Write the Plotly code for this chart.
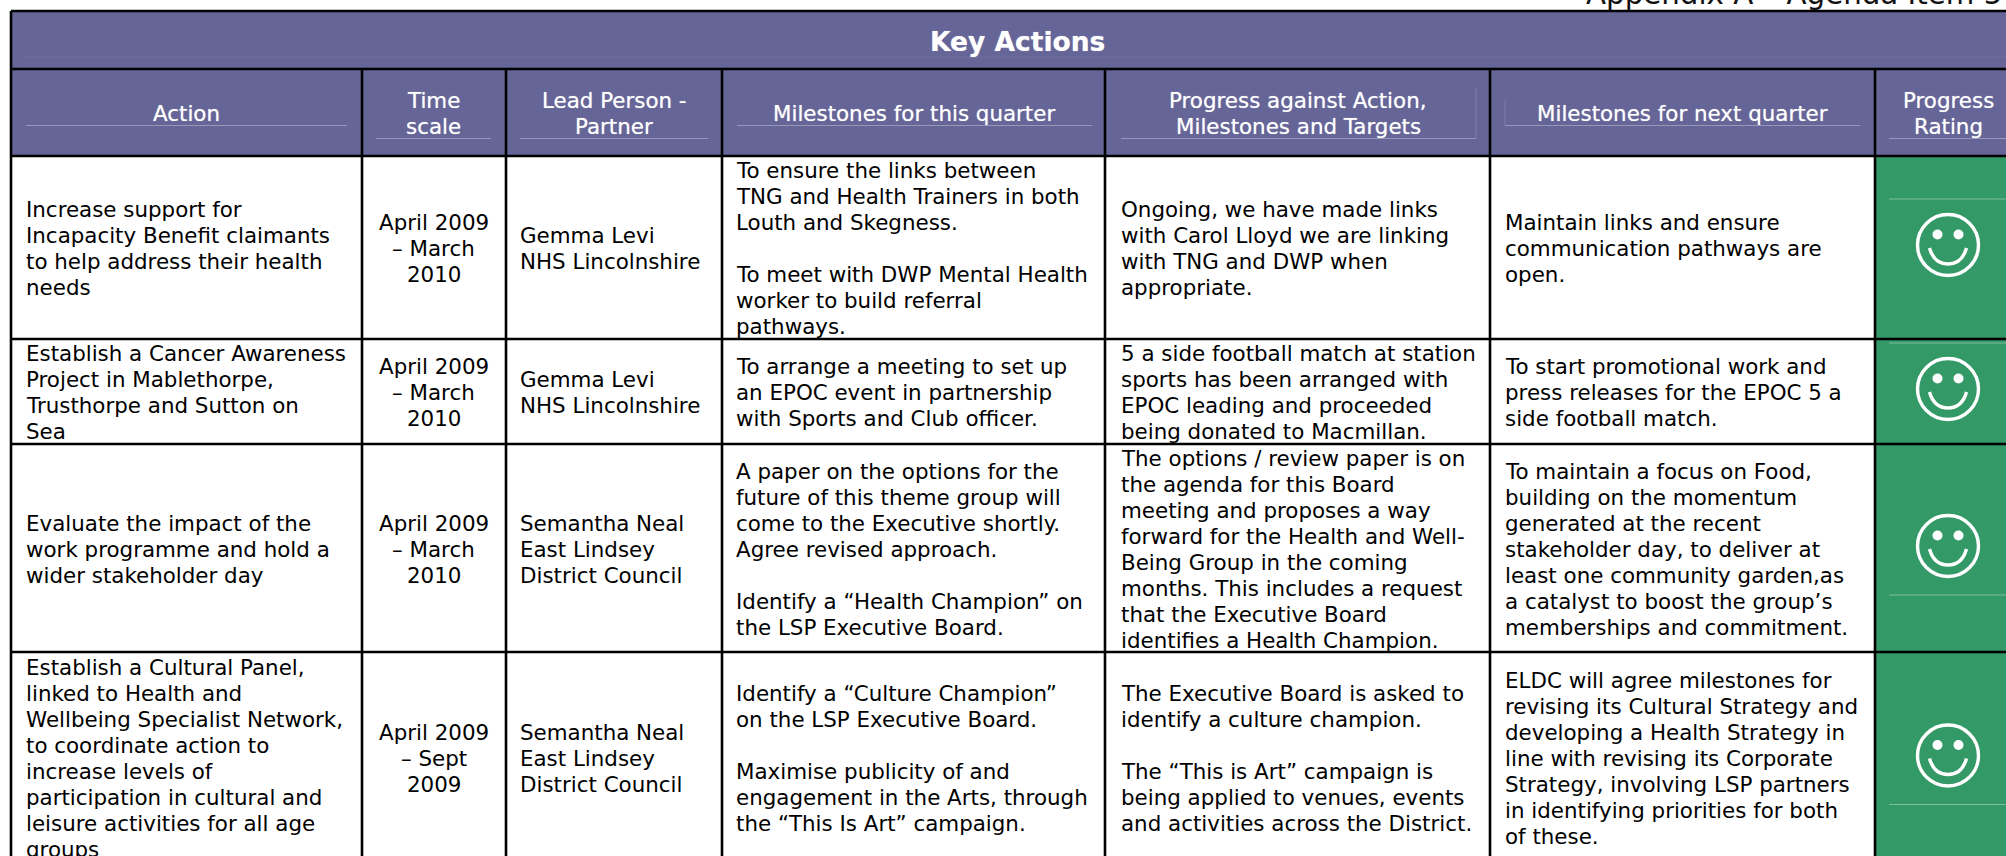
import plotly.graph_objects as go

TITLE = "Key Actions"
PAGE_NOTE = "Appendix A – Agenda Item 5"
HEADERS = ["Action", "Time<br>scale", "Lead Person -<br>Partner", "Milestones for this quarter",
           "Progress against Action,<br>Milestones and Targets", "Milestones for next quarter",
           "Progress<br>Rating"]
ACTIONS = [
    "Increase support for<br>Incapacity Benefit claimants<br>to help address their health<br>needs",
    "Establish a Cancer Awareness<br>Project in Mablethorpe,<br>Trusthorpe and Sutton on<br>Sea",
    "Evaluate the impact of the<br>work programme and hold a<br>wider stakeholder day",
    "Establish a Cultural Panel,<br>linked to Health and<br>Wellbeing Specialist Network,<br>to coordinate action to<br>increase levels of<br>participation in cultural and<br>leisure activities for all age<br>groups",
]
TIMESCALES = ["April 2009<br>– March<br>2010", "April 2009<br>– March<br>2010",
              "April 2009<br>– March<br>2010", "April 2009<br>– Sept<br>2009"]
LEADS = ["Gemma Levi<br>NHS Lincolnshire", "Gemma Levi<br>NHS Lincolnshire",
         "Semantha Neal<br>East Lindsey<br>District Council",
         "Semantha Neal<br>East Lindsey<br>District Council"]
THIS_QUARTER = [
    "To ensure the links between<br>TNG and Health Trainers in both<br>Louth and Skegness.<br><br>To meet with DWP Mental Health<br>worker to build referral<br>pathways.",
    "To arrange a meeting to set up<br>an EPOC event in partnership<br>with Sports and Club officer.",
    "A paper on the options for the<br>future of this theme group will<br>come to the Executive shortly.<br>Agree revised approach.<br><br>Identify a “Health Champion” on<br>the LSP Executive Board.",
    "Identify a “Culture Champion”<br>on the LSP Executive Board.<br><br>Maximise publicity of and<br>engagement in the Arts, through<br>the “This Is Art” campaign.",
]
PROGRESS = [
    "Ongoing, we have made links<br>with Carol Lloyd we are linking<br>with TNG and DWP when<br>appropriate.",
    "5 a side football match at station<br>sports has been arranged with<br>EPOC leading and proceeded<br>being donated to Macmillan.",
    "The options / review paper is on<br>the agenda for this Board<br>meeting and proposes a way<br>forward for the Health and Well-<br>Being Group in the coming<br>months. This includes a request<br>that the Executive Board<br>identifies a Health Champion.",
    "The Executive Board is asked to<br>identify a culture champion.<br><br>The “This is Art” campaign is<br>being applied to venues, events<br>and activities across the District.",
]
NEXT_QUARTER = [
    "Maintain links and ensure<br>communication pathways are<br>open.",
    "To start promotional work and<br>press releases for the EPOC 5 a<br>side football match.",
    "To maintain a focus on Food,<br>building on the momentum<br>generated at the recent<br>stakeholder day, to deliver at<br>least one community garden,as<br>a catalyst to boost the group’s<br>memberships and commitment.",
    "ELDC will agree milestones for<br>revising its Cultural Strategy and<br>developing a Health Strategy in<br>line with revising its Corporate<br>Strategy, involving LSP partners<br>in identifying priorities for both<br>of these.",
]

# layout geometry (page pixels)
COL_X = [11, 362, 506, 722, 1105, 1490, 1875, 2006]
ROW_Y = [11, 69, 156, 339, 444, 652, 856]
TEXT_X = [26, 433.5, 520, 736, 1121, 1505]
ROW_MID = [248, 392, 549, 758]
ACTION_MID = [248, 392, 549, 758]
HEAD_MID_X = [186.5, 433.5, 614, 914, 1298, 1682, 1948]
HEAD_MID_Y = 113.5
SMILE_Y = [245, 389, 546, 755.5]
SMILE_X = 1948
HEAD_RULES = [(26, 347, 125.5), (376, 491, 138.5), (520, 708, 138.5), (737, 1092, 125.5),
              (1121, 1476, 138.5), (1505, 1860, 125.5), (1889, 2006, 138.5), (26, 2006, 57)]
HEAD_TICKS = [(1476, 87, 138.5), (1505, 100, 125.5)]
GREEN_RULES = [199, 343, 595, 804.5]

PURPLE = "#656597"
GREEN = "#339966"
FONT = "DejaVu Sans"
FS = 21.4
LINE_H = 26

shapes, ann = [], []
def rect(x0, x1, y0, y1, fill):
    shapes.append(dict(type="rect", xref="x", yref="y", x0=x0, x1=x1, y0=y0, y1=y1,
                       fillcolor=fill, line_width=0, layer="below"))
def line(x0, y0, x1, y1, color, w):
    shapes.append(dict(type="line", xref="x", yref="y", x0=x0, x1=x1, y0=y0, y1=y1,
                       line=dict(color=color, width=w)))
def label(x, y, text, anchor="left", color="#000000", size=FS, bold=False, yshift=0, shadow="none"):
    rows = text.split("<br>")
    for i, row in enumerate(rows):
        if not row:
            continue
        ann.append(dict(x=x, y=y + (i - (len(rows) - 1) / 2) * LINE_H, xref="x", yref="y",
                        text=f"<b>{row}</b>" if bold else row, showarrow=False, yshift=yshift,
                        xanchor=anchor, yanchor="middle", align=anchor, borderpad=0, borderwidth=0,
                        font=dict(family=FONT, size=size, color=color, shadow=shadow)))

rect(COL_X[0], COL_X[-1], ROW_Y[0], ROW_Y[2], PURPLE)
rect(COL_X[6], COL_X[7], ROW_Y[2], ROW_Y[-1], GREEN)

for x0, x1, y in HEAD_RULES:
    line(x0, y, x1, y, "#9797bb" if y != 57 else "#72729f", 1)
for x, y0, y1 in HEAD_TICKS:
    line(x, y0, x, y1, "#7e7eaa", 1)
for y in GREEN_RULES:
    line(1889, y, 2006, y, "#7fbd9e", 1)

for y in ROW_Y[:-1]:
    line(COL_X[0], y, COL_X[-1], y, "#000000", 2.6)
line(COL_X[0], ROW_Y[0], COL_X[0], ROW_Y[-1], "#000000", 2.6)
for x in COL_X[1:-1]:
    line(x, ROW_Y[1], x, ROW_Y[-1], "#000000", 2.6)

for sy in SMILE_Y:
    shapes.append(dict(type="circle", xref="x", yref="y", x0=SMILE_X-30.5, x1=SMILE_X+30.5,
                       y0=sy-30.5, y1=sy+30.5, line=dict(color="white", width=3.4)))
    for dx in (-10.5, 10.5):
        shapes.append(dict(type="circle", xref="x", yref="y", x0=SMILE_X+dx-5, x1=SMILE_X+dx+5,
                           y0=sy-15.5, y1=sy-5.5, fillcolor="white", line_width=0))
    shapes.append(dict(type="path", xref="x", yref="y",
                       path=f"M {SMILE_X-18.5} {sy+3} Q {SMILE_X-14} {sy+19} {SMILE_X} {sy+19} Q {SMILE_X+14} {sy+19} {SMILE_X+18.5} {sy+3}",
                       line=dict(color="white", width=3.4)))

HALO = "0 0 1px rgba(255,255,255,0.6)"
label(1586, 8, PAGE_NOTE, size=29.3, color="#111111", yshift=14)
label(1017, 41.5, TITLE, anchor="center", color="white", size=26.5, bold=True, shadow=HALO)
for x, t in zip(HEAD_MID_X, HEADERS):
    label(x, HEAD_MID_Y, t, anchor="center", color="white", shadow=HALO)
for i in range(4):
    label(TEXT_X[0], ACTION_MID[i], ACTIONS[i])
    label(TEXT_X[1], ROW_MID[i], TIMESCALES[i], anchor="center")
    label(TEXT_X[2], ROW_MID[i], LEADS[i])
    label(TEXT_X[3], ROW_MID[i], THIS_QUARTER[i])
    label(TEXT_X[4], ROW_MID[i], PROGRESS[i])
    label(TEXT_X[5], ROW_MID[i], NEXT_QUARTER[i])

fig = go.Figure()
fig.update_layout(width=2006, height=856, margin=dict(l=0, r=0, t=0, b=0),
                  paper_bgcolor="white", plot_bgcolor="white", shapes=shapes, annotations=ann,
                  showlegend=False,
                  xaxis=dict(range=[0, 2006], visible=False, fixedrange=True),
                  yaxis=dict(range=[856, 0], visible=False, fixedrange=True))
fig.write_html("out.html", config=dict(displayModeBar=False),
               post_script="document.body.style.margin='0';document.body.style.overflow='hidden';")
